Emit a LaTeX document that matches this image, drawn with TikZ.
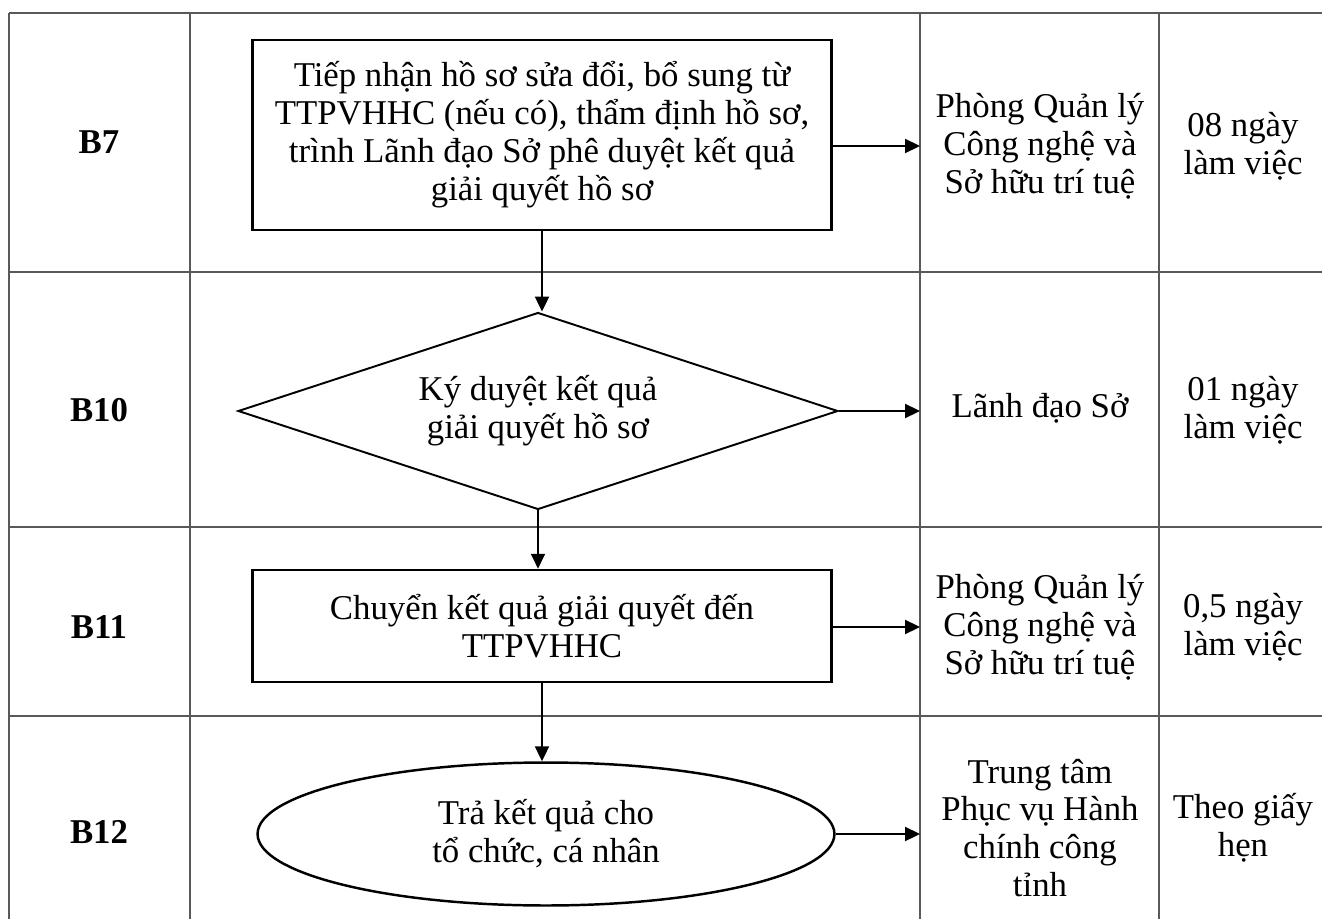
\documentclass[tikz,border=0pt]{standalone}
\usepackage{fontspec}
\setmainfont{Liberation Serif}
\usetikzlibrary{shapes.geometric,arrows.meta,positioning}

\begin{document}
\begin{tikzpicture}[
        x=0.02cm, y=-0.02cm,
        every node/.style={font=\fontsize{19.8}{21.6}\selectfont},
        grid/.style={
            draw=black!65,
            line width=0.9pt
        },
        stepbox/.style={
            draw,
            line width=1.5pt,
            minimum width=11.58cm,
            inner sep=0pt,
            align=center
        },
        decide/.style={
            draw,
            diamond,
            aspect=3.05,
            line width=1.1pt,
            minimum width=12cm,
            minimum height=3.94cm,
            inner sep=0pt,
            align=center
        },
        finish/.style={
            draw,
            ellipse,
            line width=1.4pt,
            minimum width=11.54cm,
            minimum height=2.86cm,
            inner sep=0pt,
            align=center
        },
        flow/.style={
            -{Triangle[length=8.5pt,width=8pt]},
            line width=1pt
        },
        rowlab/.style={font=\fontsize{19.8}{21.6}\selectfont\bfseries},
        cell/.style={align=center}
    ]

    \useasboundingbox (0,0) rectangle (1322,919);

    % table rules
    \foreach \y in {13,272,527,716}
        \draw[grid] (9,\y) -- (1322,\y);
    \foreach \x in {9,190,920,1159}
        \draw[grid] (\x,13) -- (\x,919);

    % step names
    \node[rowlab] (r7) at (99,142) {B7};
    \node[rowlab] (r10) at (99,410) {B10};
    \node[rowlab] (r11) at (99,627) {B11};
    \node[rowlab] (r12) at (99,832) {B12};

    % flow chart
    \node[stepbox, minimum height=3.8cm] (s7) at (542,135) {Tiếp nhận hồ sơ sửa đổi, bổ sung từ\\TTPVHHC (nếu có), thẩm định hồ sơ,\\trình Lãnh đạo Sở phê duyệt kết quả\\giải quyết hồ sơ};
    \node[decide] (s10) at (538,411) {Ký duyệt kết quả\\giải quyết hồ sơ};
    \node[stepbox, minimum height=2.24cm] (s11) at (542,626) {Chuyển kết quả giải quyết đến\\TTPVHHC};
    \node[finish] (s12) at (546,834) {Trả kết quả cho\\tổ chức, cá nhân};

    % who does it
    \node[cell] (u7) at (1040,146) {Phòng Quản lý\\Công nghệ và\\Sở hữu trí tuệ};
    \node[cell] (u10) at (1040,408) {Lãnh đạo Sở};
    \node[cell] (u11) at (1040,627) {Phòng Quản lý\\Công nghệ và\\Sở hữu trí tuệ};
    \node[cell] (u12) at (1040,828) {Trung tâm\\Phục vụ Hành\\chính công\\tỉnh};

    % how long
    \node[cell] (d7) at (1243,146) {08 ngày\\làm việc};
    \node[cell] (d10) at (1243,410) {01 ngày\\làm việc};
    \node[cell] (d11) at (1243,627) {0,5 ngày\\làm việc};
    \node[cell] (d12) at (1243,828) {Theo giấy\\hẹn};

    \coordinate (vx) at (920,0);

    % down the chart
    \draw[flow] (s7.south) -- (s7.south |- s10.north);
    \draw[flow] (s10.south) -- (s10.south |- s11.north);
    \draw[flow] (s11.south) -- (s11.south |- s12.north);

    % across to the unit column
    \draw[flow] (s7.east |- u7) -- (vx |- u7);
    \draw[flow] (s10.east) -- (vx |- s10.east);
    \draw[flow] (s11.east |- u11) -- (vx |- u11);
    \draw[flow] (s12.east) -- (vx |- s12.east);

    \end{tikzpicture}
\end{document}
